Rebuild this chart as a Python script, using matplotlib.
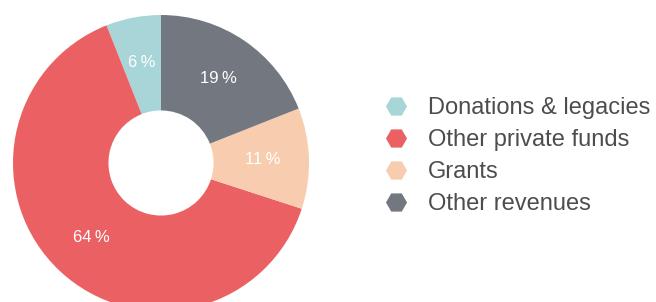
import matplotlib.pyplot as plt
from matplotlib.lines import Line2D

plt.rcParams['font.family'] = ['Liberation Sans', 'DejaVu Sans']

# data
labels = ['Donations & legacies', 'Other private funds', 'Grants', 'Other revenues']
values = [6, 64, 11, 19]
colors = ['#a8d5d8', '#eb6163', '#f8ccae', '#737780']

W, H = 656, 302
fig = plt.figure(figsize=(W / 100, H / 100), dpi=100)

# pie axes placed in pixel coords: centre (161, 163 from top), radius 148
cx, cy, r = 161, H - 163, 148
ax = fig.add_axes([(cx - r) / W, (cy - r) / H, 2 * r / W, 2 * r / H])

wedges, texts = ax.pie(values, colors=colors, startangle=90, counterclock=True,
                       radius=1.0, labels=[f'{v}\u2009%' for v in values],
                       labeldistance=0.69,
                       wedgeprops=dict(width=0.645, linewidth=0))
for t in texts:
    t.set_color('white')
    t.set_fontsize(12)
    t.set_ha('center')
    t.set_va('center')
ax.set_xlim(-1, 1)
ax.set_ylim(-1, 1)
ax.set_aspect('equal')
ax.axis('off')

handles = [Line2D([], [], marker='H', ls='', color=c, markersize=14) for c in colors]
fig.legend(handles, labels, loc='center left', bbox_to_anchor=(370 / W, (H - 156) / H),
           frameon=False, fontsize=17, labelcolor='#4d4d4d', handletextpad=0.76,
           labelspacing=0.43, handlelength=1.2, borderpad=0)

fig.savefig('out.png', dpi=100)
